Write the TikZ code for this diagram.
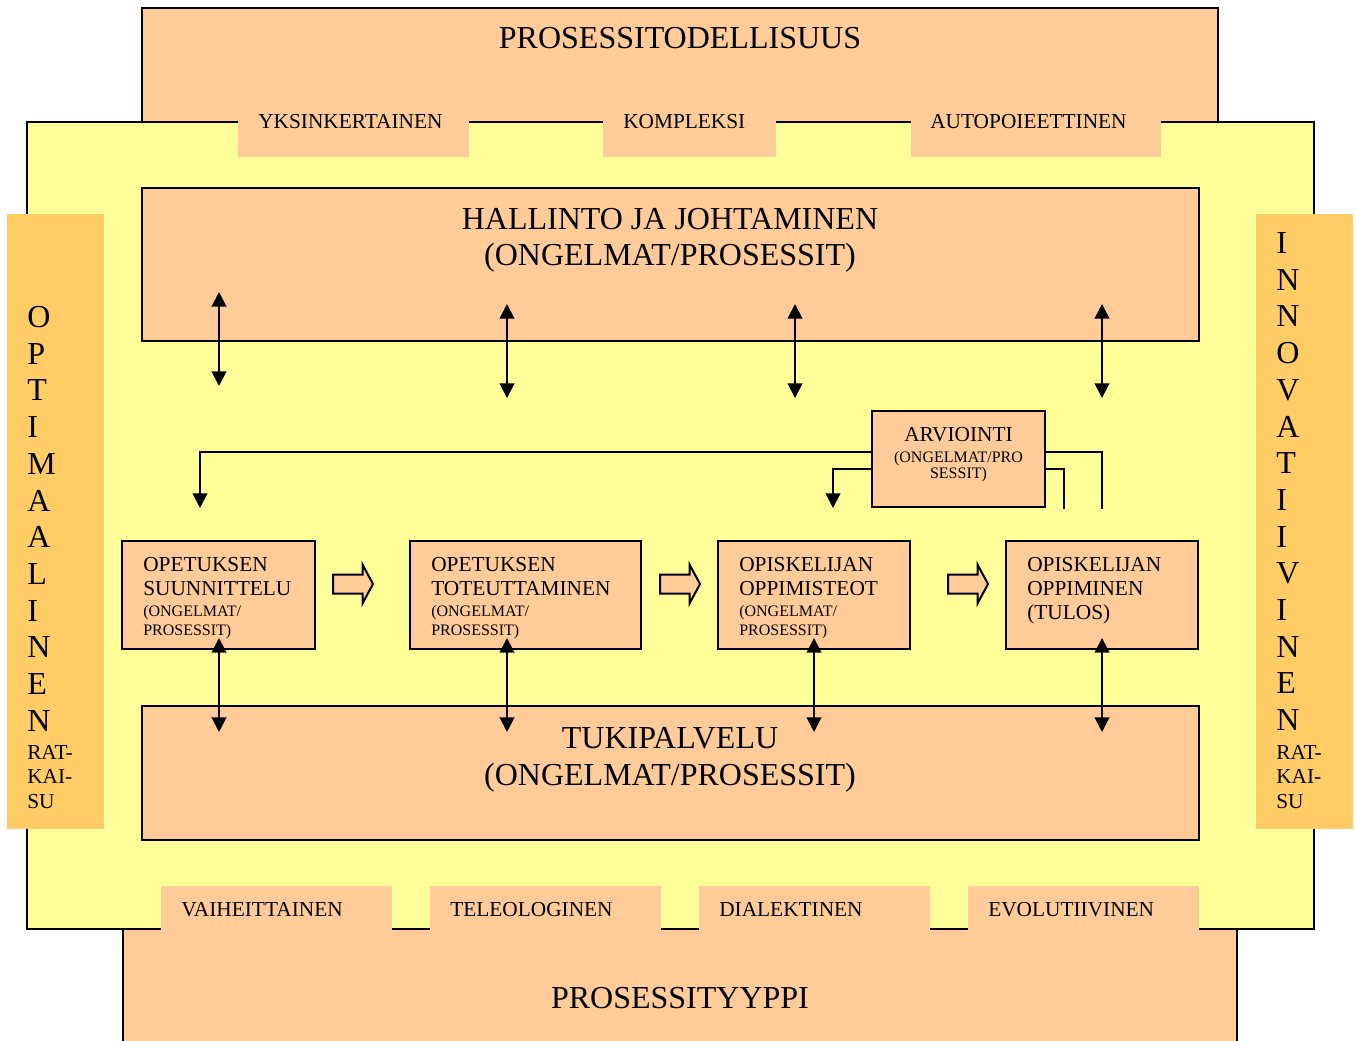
\documentclass[tikz,border=0pt]{standalone}
\usepackage{fontspec}
\setmainfont{Liberation Serif}
\usetikzlibrary{arrows.meta}
\definecolor{peach}{HTML}{FFCC99}
\definecolor{lyellow}{HTML}{FFFF99}
\definecolor{sidebar}{HTML}{FFCC66}
\newcommand\mkbox[6]{\node[#6, anchor=north west, inner sep=0pt, outer sep=0pt,
  minimum width={(#4-#2)*0.75pt}, minimum height={(#5-#3)*0.75pt}] (#1) at (#2,#3) {};}
\begin{document}
\begin{tikzpicture}[x=0.75pt,y=-0.75pt,
  box/.style={draw=black,line width=1.5pt,fill=peach},
  ybox/.style={draw=black,line width=1.5pt,fill=lyellow},
  tabbox/.style={fill=peach},
  sidebox/.style={fill=sidebar},
  conn/.style={line width=1.5pt},
  dbl/.style={line width=1.5pt,{Triangle[length=11pt,width=11pt]}-{Triangle[length=11pt,width=11pt]}},
  tipline/.style={line width=1.5pt,-{Triangle[length=11pt,width=11pt]}},
  big/.style={font=\fontsize{24}{28}\selectfont,inner sep=0pt,anchor=base},
  mid/.style={font=\fontsize{16}{19}\selectfont,inner sep=0pt,anchor=base west},
  sml/.style={font=\fontsize{12}{14}\selectfont,inner sep=0pt,anchor=base west},
  letter/.style={font=\fontsize{24}{28}\selectfont,inner sep=0pt,anchor=base west},
  barrow/.pic={\draw[line width=1.5pt,fill=peach,line join=miter]
     (0,-9.5)--(29.5,-9.5)--(29.5,-19.5)--(40,0)--(29.5,19.5)--(29.5,9.5)--(0,9.5)--cycle;}
]
\useasboundingbox (0,0) rectangle (1355,1041);
\fill[white] (0,0) rectangle (1355,1041);
\begin{scope}
\clip (0,0) rectangle (1355,1041);
% outer frames
\mkbox{topbox}{142}{8}{1218}{122}{box}
\mkbox{yellow}{27}{122}{1314}{929}{ybox}
\mkbox{botbox}{123}{929}{1237}{1060}{box}
% tabs
\mkbox{tabA}{238}{119}{469}{157}{tabbox}
\mkbox{tabB}{603}{119}{776}{157}{tabbox}
\mkbox{tabC}{911}{119}{1161}{157}{tabbox}
\mkbox{tabD}{161}{886}{392}{932}{tabbox}
\mkbox{tabE}{430}{886}{661}{932}{tabbox}
\mkbox{tabF}{699}{886}{930}{932}{tabbox}
\mkbox{tabG}{968}{886}{1199}{932}{tabbox}
% side bars
\mkbox{sideL}{7}{214}{104}{829}{sidebox}
\mkbox{sideR}{1256}{214}{1353}{829}{sidebox}
\end{scope}
% inner boxes
\mkbox{hal}{142}{188}{1199}{341}{box}
\mkbox{tuki}{142}{706}{1199}{840}{box}
\mkbox{p1}{122}{541}{315}{649}{box}
\mkbox{p2}{410}{541}{641}{649}{box}
\mkbox{p3}{718}{541}{910}{649}{box}
\mkbox{p4}{1006}{541}{1198}{649}{box}
\mkbox{arv}{872}{411}{1045}{507}{box}
% block arrows
\pic (ba1) at (333,584) {barrow};
\pic (ba2) at (660,584) {barrow};
\pic (ba3) at (948,584) {barrow};
% coordinates for connectors
\coordinate (ta1) at (219,292); \coordinate (tb1) at (219,386);
\coordinate (ta2) at (507,304); \coordinate (tb2) at (507,398);
\coordinate (ta3) at (795,304); \coordinate (tb3) at (795,398);
\coordinate (ta4) at (1102,304); \coordinate (tb4) at (1102,398);
\coordinate (ua1) at (219,638); \coordinate (ub1) at (219,732);
\coordinate (ua2) at (507,638); \coordinate (ub2) at (507,732);
\coordinate (ua3) at (814,638); \coordinate (ub3) at (814,732);
\coordinate (ua4) at (1102,638); \coordinate (ub4) at (1102,732);
\foreach \i in {1,2,3,4}{
  \draw[dbl] (ta\i) -- (tb\i);
  \draw[dbl] (ua\i) -- (ub\i);
}
\coordinate (aL1) at (872,452); \coordinate (eL1) at (200,508);
\coordinate (aL2) at (872,469); \coordinate (eL2) at (833,508);
\coordinate (aR1) at (1045,452); \coordinate (eR1) at (1102,509);
\coordinate (aR2) at (1045,469); \coordinate (eR2) at (1064,509);
\draw[tipline] (aL1) -| (eL1);
\draw[tipline] (aL2) -| (eL2);
\draw[conn] (aR1) -| (eR1);
\draw[conn] (aR2) -| (eR2);
% texts
\node[big] (tTop) at (680,49) {PROSESSITODELLISUUS};
\node[big] (tBot) at (680,1008) {PROSESSITYYPPI};
\node[big] (tHal1) at (670,229) {HALLINTO JA JOHTAMINEN};
\node[big] (tHal2) at (670,266) {(ONGELMAT/PROSESSIT)};
\node[big] (tTuk1) at (670,748) {TUKIPALVELU};
\node[big] (tTuk2) at (670,785) {(ONGELMAT/PROSESSIT)};
\node[mid] (tA) at (258,129) {YKSINKERTAINEN};
\node[mid] (tB) at (623,129) {KOMPLEKSI};
\node[mid] (tC) at (930,129) {AUTOPOIEETTINEN};
\node[mid] (tD) at (181,916) {VAIHEITTAINEN};
\node[mid] (tE) at (450,916) {TELEOLOGINEN};
\node[mid] (tF) at (719,916) {DIALEKTINEN};
\node[mid] (tG) at (988,916) {EVOLUTIIVINEN};
% process box texts
\node[mid] (p1a) at (143,571.5) {OPETUKSEN};
\node[mid] (p1b) at (143,595) {SUUNNITTELU};
\node[sml] (p1c) at (143,616) {(ONGELMAT/};
\node[sml] (p1d) at (143,635) {PROSESSIT)};
\node[mid] (p2a) at (431,571.5) {OPETUKSEN};
\node[mid] (p2b) at (431,595) {TOTEUTTAMINEN};
\node[sml] (p2c) at (431,616) {(ONGELMAT/};
\node[sml] (p2d) at (431,635) {PROSESSIT)};
\node[mid] (p3a) at (739,571.5) {OPISKELIJAN};
\node[mid] (p3b) at (739,595) {OPPIMISTEOT};
\node[sml] (p3c) at (739,616) {(ONGELMAT/};
\node[sml] (p3d) at (739,635) {PROSESSIT)};
\node[mid] (p4a) at (1027,571.5) {OPISKELIJAN};
\node[mid] (p4b) at (1027,595) {OPPIMINEN};
\node[mid] (p4c) at (1027,619.5) {(TULOS)};
% arviointi
\node[mid,anchor=base] (arv1) at (958.5,441) {ARVIOINTI};
\node[sml,anchor=base] (arv2) at (958.5,462) {(ONGELMAT/PRO};
\node[sml,anchor=base] (arv3) at (958.5,478) {SESSIT)};
% side letters
\foreach \c [count=\k from 0] in {O,P,T,I,M,A,A,L,I,N,E,N}{
  \node[letter] (sl\k) at (27,{327.5+36.7*\k}) {\c};
}
\foreach \c [count=\k from 0] in {I,N,N,O,V,A,T,I,I,V,I,N,E,N}{
  \node[letter] (sr\k) at (1276,{253.5+36.7*\k}) {\c};
}
\node[mid] (slr1) at (27,759) {RAT-};
\node[mid] (slr2) at (27,783) {KAI-};
\node[mid] (slr3) at (27,808) {SU};
\node[mid] (srr1) at (1276,759) {RAT-};
\node[mid] (srr2) at (1276,783) {KAI-};
\node[mid] (srr3) at (1276,808) {SU};
\end{tikzpicture}
\end{document}
